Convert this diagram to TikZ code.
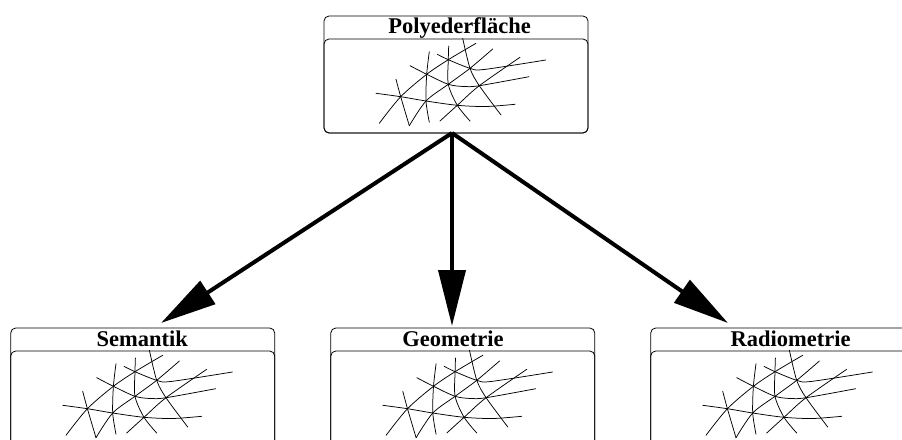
\documentclass[tikz,border=0pt]{standalone}
\usepackage{fontspec}
\setmainfont{Liberation Serif}
\usetikzlibrary{arrows.meta}

% wire-frame sketch of a polyhedral surface, drawn relative to a panel's top-left corner
\newcommand\meshsketch[1]{%
  \begin{scope}[shift={(#1.north west)}, mesh]
    % flowing "rows"
    \draw plot[smooth, tension=0.5] coordinates {(52,77.3) (76.7,80.7) (102,85) (133.3,89.3) (162,90.5) (191,88.3)};
    \draw plot[smooth, tension=0.5] coordinates {(86,49.7) (102.7,58.3) (124.3,68.3) (140,70.5) (155.3,69.7) (205,60.7)};
    \draw plot[smooth, tension=0.5] coordinates {(113.3,38.3) (124.3,43.7) (146,52.3) (160,53.5) (221.7,44)};
    % steep "columns"
    \draw plot[smooth, tension=0.5] coordinates {(72,63.3) (76.7,80.7) (85.3,109.7)};
    \draw plot[smooth, tension=0.5] coordinates {(105.3,35.7) (102.7,58.3) (102,85) (105.3,106.3)};
    \draw plot[smooth, tension=0.5] coordinates {(124.7,30) (124.3,43.7) (124.3,68.3) (133.3,89.3) (146,105)};
    \draw plot[smooth, tension=0.5] coordinates {(138.7,22.3) (146,52.3) (155.3,69.7) (177,99)};
    % rising diagonals
    \draw plot[smooth, tension=0.5] coordinates {(55.3,107.3) (76.7,80.7) (102.7,58.3) (124.3,43.7) (152,27.3)};
    \draw plot[smooth, tension=0.5] coordinates {(85.3,109.7) (102,85) (124.3,68.3) (146,52.3) (168.7,33)};
    \draw plot[smooth, tension=0.5] coordinates {(116,105) (133.3,89.3) (155.3,69.7) (196,41.3)};
  \end{scope}%
}

\tikzset{
  panel/.style={draw, rounded corners=5pt, minimum width=264pt, minimum height=117pt,
    inner sep=0pt, outer sep=0pt, line width=0.8pt},
  panelbody/.style={draw, rounded corners=5pt, minimum width=264pt, minimum height=94pt,
    inner sep=0pt, outer sep=0pt, line width=0.8pt},
  paneltitle/.style={anchor=base, inner sep=0pt, font=\bfseries\fontsize{22.5}{27}\selectfont},
  mesh/.style={line width=0.75pt, line cap=round, line join=round},
  flow/.style={line width=4pt, -{Triangle[length=56pt,width=27pt]}}
}

\begin{document}
\begin{tikzpicture}[x=1pt, y=-1pt]
  \useasboundingbox (0,0) rectangle (902,439);
  \clip (0,0) rectangle (902,439);

  % source panel
  \node[panel] (poly) at (456,74.5) {};
  \node[panelbody] (polybody) at (456,86) {};
  \node[paneltitle] (polytitle) at (459.5,33) {Polyederfläche};
  \meshsketch{poly}

  % derived panels
  \node[panel] (sem) at (142.7,386.5) {};
  \node[panelbody] (sembody) at (142.7,398) {};
  \node[paneltitle] (semtitle) at (142.2,346) {Semantik};
  \meshsketch{sem}

  \node[panel] (geo) at (462.8,386.5) {};
  \node[panelbody] (geobody) at (462.8,398) {};
  \node[paneltitle] (geotitle) at (453,346) {Geometrie};
  \meshsketch{geo}

  \node[panel] (rad) at (782.7,386.5) {};
  \node[panelbody] (radbody) at (782.7,398) {};
  \node[paneltitle] (radtitle) at (790.7,346) {Radiometrie};
  \meshsketch{rad}

  % connectors
  \coordinate (fork) at (452,133);
  \coordinate (semtip) at (161,323);
  \coordinate (geotip) at (452,326);
  \coordinate (radtip) at (728,323);
  \draw[flow] (fork) -- (semtip);
  \draw[flow] (fork) -- (geotip);
  \draw[flow] (fork) -- (radtip);
\end{tikzpicture}
\end{document}
